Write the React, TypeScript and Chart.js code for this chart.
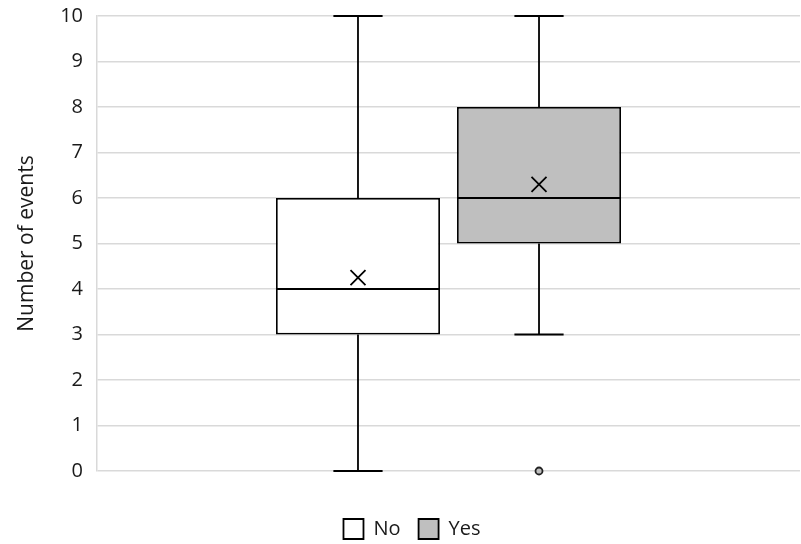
import React, { useEffect, useRef } from "react";
import { Chart, registerables } from "chart.js";

Chart.register(...registerables);

const categories = ["No", "Yes"];
const minValues = [0, 3];
const q1Values = [3, 5];
const medianValues = [4, 6];
const q3Values = [6, 8];
const maxValues = [10, 10];
const meanValues = [4.25, 6.3];
const outlierValues: number[][] = [[], [0]];
const fillColors = ["#ffffff", "#bfbfbf"];
const yMin = 0;
const yMax = 10;
const yStep = 1;
const yTitle = "Number of events";

const FONT = "'Open Sans', 'Noto Sans', sans-serif";
const TEXT = "#1a1a1a";

const legendShiftPlugin = {
  id: "legendShift",
  afterLayout(chart: any) {
    if (chart.legend) {
      chart.legend.left += 12;
      chart.legend.right += 12;
    }
  },
};

const boxPlotPlugin = {
  id: "boxPlotExtras",
  afterDatasetsDraw(chart: any) {
    const ctx = chart.ctx;
    const ys = chart.scales.y;
    chart.data.datasets.forEach((_ds: any, i: number) => {
      const meta = chart.getDatasetMeta(i);
      const bar = meta.data[0];
      if (!bar) return;
      const x = bar.x;
      const w = bar.width;
      const capW = w * 0.3;
      ctx.save();
      ctx.strokeStyle = "#000";
      ctx.lineWidth = 1.8;
      ctx.lineCap = "butt";
      const yMaxP = ys.getPixelForValue(maxValues[i]);
      const yQ3 = ys.getPixelForValue(q3Values[i]);
      const yQ1 = ys.getPixelForValue(q1Values[i]);
      const yMinP = ys.getPixelForValue(minValues[i]);
      ctx.beginPath();
      ctx.moveTo(x, yQ3);
      ctx.lineTo(x, yMaxP);
      ctx.moveTo(x - capW / 2, yMaxP);
      ctx.lineTo(x + capW / 2, yMaxP);
      ctx.moveTo(x, yQ1);
      ctx.lineTo(x, yMinP);
      ctx.moveTo(x - capW / 2, yMinP);
      ctx.lineTo(x + capW / 2, yMinP);
      ctx.stroke();
      const yMed = ys.getPixelForValue(medianValues[i]);
      ctx.beginPath();
      ctx.moveTo(x - w / 2, yMed);
      ctx.lineTo(x + w / 2, yMed);
      ctx.stroke();
      const yMean = ys.getPixelForValue(meanValues[i]);
      const s = 7.5;
      ctx.beginPath();
      ctx.moveTo(x - s, yMean - s);
      ctx.lineTo(x + s, yMean + s);
      ctx.moveTo(x + s, yMean - s);
      ctx.lineTo(x - s, yMean + s);
      ctx.stroke();
      outlierValues[i].forEach((v) => {
        const yo = ys.getPixelForValue(v);
        ctx.beginPath();
        ctx.arc(x, yo, 3.5, 0, Math.PI * 2);
        ctx.fillStyle = fillColors[i];
        ctx.fill();
        ctx.lineWidth = 1.8;
        ctx.strokeStyle = "#222";
        ctx.stroke();
      });
      ctx.restore();
    });
  },
};

export default function App() {
  const canvasRef = useRef<HTMLCanvasElement | null>(null);

  useEffect(() => {
    if (!canvasRef.current) return;
    const chart = new Chart(canvasRef.current, {
      type: "bar",
      data: {
        labels: [""],
        datasets: categories.map((name, i) => ({
          label: name,
          data: [[q1Values[i], q3Values[i]]] as any,
          backgroundColor: fillColors[i],
          borderColor: "#000",
          borderWidth: 1.8,
          borderSkipped: false,
          categoryPercentage: 0.515,
          barPercentage: 0.906,
        })),
      },
      options: {
        animation: false,
        responsive: false,
        maintainAspectRatio: false,
        layout: { padding: { top: 16, right: 1, left: 0, bottom: -5 } },
        plugins: {
          tooltip: { enabled: false },
          legend: {
            position: "bottom",
            labels: {
              boxWidth: 20,
              boxHeight: 20,
              color: TEXT,
              font: { family: FONT, size: 20, lineHeight: 1.0 },
              padding: 18,
            },
          },
        },
        scales: {
          x: {
            display: true,
            grid: { display: false },
            border: { display: false },
            ticks: { display: false },
            afterFit(scale: any) {
              scale.height = 30;
              scale.paddingLeft = 0;
              scale.paddingRight = 0;
            },
          },
          y: {
            min: yMin,
            max: yMax,
            ticks: {
              stepSize: yStep,
              color: TEXT,
              font: { family: FONT, size: 20 },
              padding: 14,
            },
            grid: { color: "#d9d9d9", lineWidth: 1.5, drawTicks: false },
            border: { color: "#d9d9d9", width: 1.5 },
            title: {
              display: true,
              text: yTitle,
              color: TEXT,
              font: { family: FONT, size: 21 },
              padding: { top: 14, bottom: 0 },
            },
            afterFit(scale: any) {
              scale.width = 97;
              scale.paddingTop = 0;
              scale.paddingBottom = 0;
            },
          },
        },
      },
      plugins: [boxPlotPlugin, legendShiftPlugin],
    });
    return () => chart.destroy();
  }, []);

  return (
    <div style={{ position: "fixed", left: 0, top: 0, width: 801, height: 544, background: "#fff" }}>
      <canvas ref={canvasRef} width={801} height={544} style={{ width: 801, height: 544 }} />
    </div>
  );
}
